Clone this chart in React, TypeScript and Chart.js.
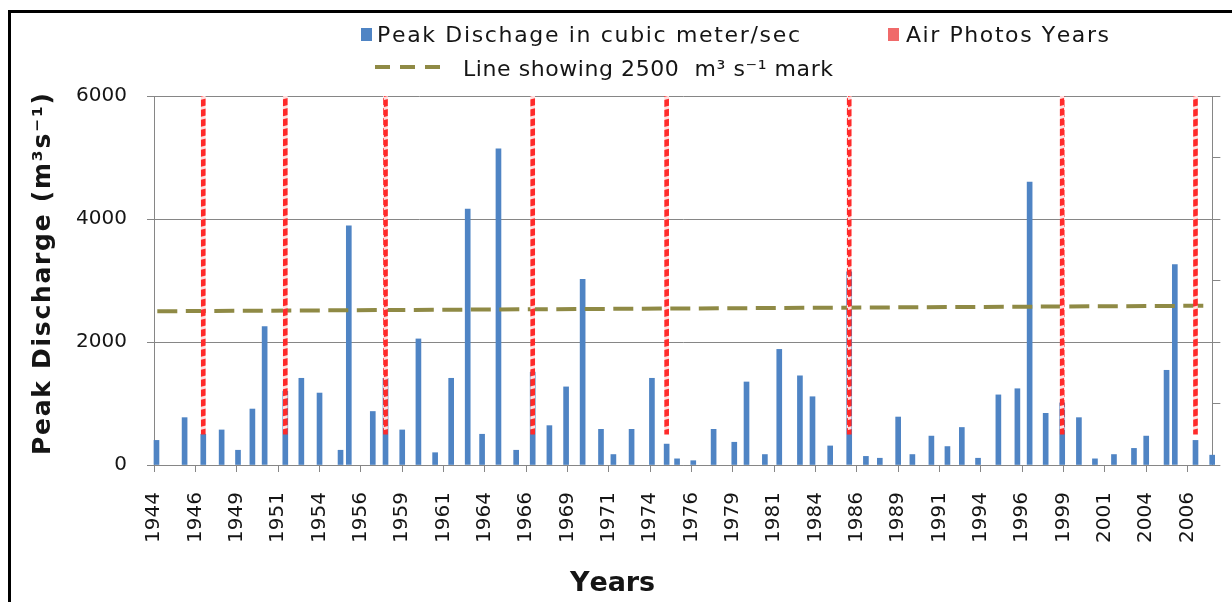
import React, { useEffect, useRef } from 'react';
import { Chart, registerables } from 'chart.js';

Chart.register(...registerables);

// Decimal year of each annual peak (date of the event) and its discharge (m3/s)
const peakYears = [
  1944.15, 1945.85, 1946.98, 1948.09, 1949.08, 1949.95, 1950.69, 1951.94, 1952.91, 1954.01,
  1955.28, 1955.78, 1957.23, 1958.0, 1959.01, 1959.99, 1961.0, 1961.97, 1962.97, 1963.84,
  1964.83, 1965.9, 1966.9, 1967.91, 1968.92, 1969.92, 1971.03, 1971.78, 1972.88, 1974.11,
  1975.0, 1975.63, 1976.61, 1977.84, 1979.09, 1979.83, 1980.94, 1981.81, 1983.06, 1983.82,
  1984.89, 1986.04, 1987.05, 1987.89, 1989.0, 1989.86, 1991.01, 1991.98, 1992.85, 1993.83,
  1995.06, 1996.21, 1996.95, 1997.92, 1998.92, 1999.93, 2000.9, 2002.05, 2003.26, 2004.0,
  2005.23, 2005.73, 2006.98, 2007.99,
];
const peakDischarge = [
  400, 770, 500, 570, 240, 910, 2250, 1200, 1410, 1170,
  240, 3890, 870, 1410, 570, 2050, 200, 1410, 4160, 500,
  5140, 240, 1510, 640, 1270, 3020, 580, 170, 580, 1410,
  340, 100, 70, 580, 370, 1350, 170, 1880, 1450, 1110,
  310, 3140, 140, 110, 780, 170, 470, 300, 610, 110,
  1140, 1240, 4600, 840, 1010, 770, 100, 170, 270, 470,
  1540, 3260, 400, 160,
];

// Years with air photos (drawn as floating bars)
const airPhotoYears = [1946.98, 1951.94, 1958.0, 1966.9, 1975.0, 1986.04, 1998.92, 2006.98];
const airPhotoRange = [500, 6000];

// 2500 m3/s reference line
const markYears = [1944.2, 2007.7];
const markValues = [2500, 2590];

// Axis ticks
const xTickValues = [
  1944, 1946.5, 1949, 1951.5, 1954, 1956.5, 1959, 1961.5, 1964, 1966.5, 1969, 1971.5, 1974,
  1976.5, 1979, 1981.5, 1984, 1986.5, 1989, 1991.5, 1994, 1996.5, 1999, 2001.5, 2004, 2006.5,
];
const xTickLabels = [
  '1944', '1946', '1949', '1951', '1954', '1956', '1959', '1961', '1964', '1966', '1969', '1971', '1974',
  '1976', '1979', '1981', '1984', '1986', '1989', '1991', '1994', '1996', '1999', '2001', '2004', '2006',
];
const yTickValues = [0, 2000, 4000, 6000];
const yTickLabels = ['0', '2000', '4000', '6000'];
const rightTickValues = [0, 1000, 2000, 3000, 4000, 5000, 6000];

const legendLabels = ['Peak Dischage in cubic meter/sec', 'Air Photos Years', 'Line showing 2500  m³ s⁻¹ mark'];
const yTitle = 'Peak Discharge (m³s⁻¹)';
const xTitle = 'Years';

const BLUE = '#4f84c4';
const RED_KEY = '#f06a6a';
const OLIVE = '#8f8a45';
const GRID = '#868686';
const TEXT = '#151515';

function makeStripePattern(): CanvasPattern | string {
  const c = document.createElement('canvas');
  c.width = 8;
  c.height = 10;
  const g = c.getContext('2d');
  if (!g) return '#f03030';
  g.fillStyle = '#ff2a2a';
  g.fillRect(0, 0, 8, 10);
  g.fillStyle = 'rgba(255,228,228,0.97)';
  g.beginPath();
  g.moveTo(0, 7);
  g.lineTo(8, 5);
  g.lineTo(8, 8);
  g.lineTo(0, 10);
  g.closePath();
  g.fill();
  const p = g.createPattern(c, 'repeat');
  return p || '#f03030';
}

function drawFitted(ctx: CanvasRenderingContext2D, text: string, x: number, y: number, width: number) {
  const chars = Array.from(text);
  const natural = chars.reduce((s, ch) => s + ctx.measureText(ch).width, 0);
  const spacing = chars.length > 1 ? (width - natural) / (chars.length - 1) : 0;
  let cx = x;
  for (const ch of chars) {
    ctx.fillText(ch, cx, y);
    cx += ctx.measureText(ch).width + spacing;
  }
}

const decorPlugin = {
  id: 'decor',
  afterDraw(chart: any) {
    const ctx: CanvasRenderingContext2D = chart.ctx;
    ctx.save();
    ctx.textBaseline = 'alphabetic';
    ctx.textAlign = 'left';

    // Legend row 1
    ctx.fillStyle = BLUE;
    ctx.fillRect(361, 28, 11, 13);
    ctx.fillStyle = RED_KEY;
    ctx.fillRect(888, 28, 11, 13);
    ctx.fillStyle = TEXT;
    ctx.font = '22px "DejaVu Sans"';
    drawFitted(ctx, legendLabels[0], 377, 42, 423);
    drawFitted(ctx, legendLabels[1], 906, 42, 203);
    // Legend row 2
    ctx.strokeStyle = OLIVE;
    ctx.lineWidth = 4;
    ctx.setLineDash([15, 10]);
    ctx.beginPath();
    ctx.moveTo(375, 67);
    ctx.lineTo(440, 67);
    ctx.stroke();
    ctx.setLineDash([]);
    drawFitted(ctx, legendLabels[2], 463, 76, 370);

    // Y title
    ctx.font = 'bold 25px "DejaVu Sans"';
    ctx.save();
    ctx.translate(50, 455);
    ctx.rotate(-Math.PI / 2);
    drawFitted(ctx, yTitle, 0, 0, 362);
    ctx.restore();

    // X title
    ctx.font = 'bold 27px "DejaVu Sans"';
    drawFitted(ctx, xTitle, 570, 591, 85);
    ctx.restore();
  },
};

export default function App() {
  const ref = useRef<HTMLCanvasElement>(null);

  useEffect(() => {
    const canvas = ref.current;
    if (!canvas) return;
    const stripe = makeStripePattern();

    const chart = new Chart(canvas, {
      type: 'bar',
      data: {
        datasets: [
          {
            type: 'bar',
            label: legendLabels[1],
            data: airPhotoYears.map((x) => ({ x, y: [airPhotoRange[0], airPhotoRange[1]] })),
            backgroundColor: stripe as any,
            barThickness: 4,
            grouped: false,
            order: 0,
          } as any,
          {
            type: 'line',
            label: legendLabels[2],
            data: markYears.map((x, i) => ({ x, y: markValues[i] })),
            borderColor: OLIVE,
            borderWidth: 4,
            borderDash: [20, 8.5],
            borderCapStyle: 'butt',
            pointRadius: 0,
            fill: false,
            order: 1,
          } as any,
          {
            type: 'bar',
            label: legendLabels[0],
            data: peakYears.map((x, i) => ({ x, y: peakDischarge[i] })),
            backgroundColor: BLUE,
            barThickness: 5,
            grouped: false,
            clip: false,
            order: 2,
          } as any,
        ],
      },
      options: {
        animation: false,
        responsive: false,
        devicePixelRatio: 1,
        layout: { padding: { top: 96, left: 0, right: 0, bottom: 0 } },
        plugins: {
          legend: { display: false },
          tooltip: { enabled: false },
          title: { display: false },
        },
        scales: {
          x: {
            type: 'linear',
            min: 1944,
            max: 2008,
            offset: false,
            afterBuildTicks: (s: any) => {
              s.ticks = xTickValues.map((v) => ({ value: v }));
            },
            afterFit: (s: any) => {
              s.height = 137;
            },
            ticks: {
              autoSkip: false,
              minRotation: 90,
              maxRotation: 90,
              padding: 20,
              color: TEXT,
              font: { family: 'DejaVu Sans', size: 20 },
              callback: (_v: any, i: number) => xTickLabels[i],
            },
            grid: { drawOnChartArea: false, drawTicks: true, tickLength: 7, color: GRID, offset: false },
            border: { color: GRID, width: 1 },
          },
          y: {
            type: 'linear',
            position: 'left',
            min: 0,
            max: 6000,
            afterBuildTicks: (s: any) => {
              s.ticks = yTickValues.map((v) => ({ value: v }));
            },
            afterFit: (s: any) => {
              s.width = 154;
            },
            ticks: {
              padding: 20,
              color: TEXT,
              font: { family: 'DejaVu Sans', size: 20 },
              callback: (_v: any, i: number) => yTickLabels[i],
            },
            grid: { color: GRID, tickLength: 7 },
            border: { color: GRID },
          },
          y2: {
            type: 'linear',
            position: 'right',
            min: 0,
            max: 6000,
            afterBuildTicks: (s: any) => {
              s.ticks = rightTickValues.map((v) => ({ value: v }));
            },
            afterFit: (s: any) => {
              s.width = 19;
            },
            ticks: { display: false },
            grid: { drawOnChartArea: false, tickLength: 8, color: GRID },
            border: { color: GRID },
          },
        },
      } as any,
      plugins: [decorPlugin],
    });

    return () => chart.destroy();
  }, []);

  return (
    <div
      style={{
        position: 'absolute',
        left: 0,
        top: 0,
        width: 1232,
        height: 602,
        overflow: 'hidden',
        background: '#fff',
      }}
    >
      <canvas
        ref={ref}
        width={1232}
        height={602}
        style={{ position: 'absolute', left: 0, top: 0, width: 1232, height: 602 }}
      />
      <div
        style={{
          position: 'absolute',
          left: 8,
          top: 10,
          width: 1300,
          height: 700,
          borderLeft: '3px solid #000',
          borderTop: '3px solid #000',
          pointerEvents: 'none',
        }}
      />
    </div>
  );
}
